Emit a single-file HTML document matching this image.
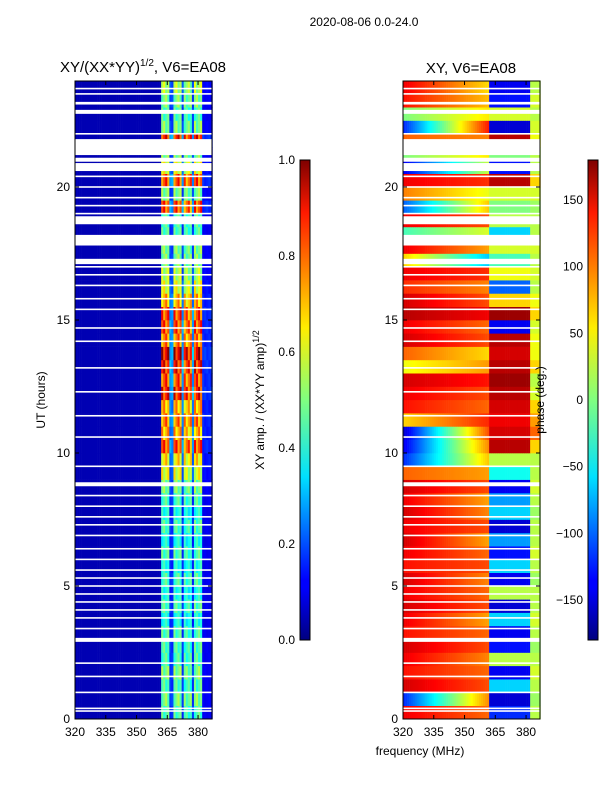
<!DOCTYPE html>
<html><head><meta charset="utf-8">
<style>
body{margin:0;background:#fff;width:600px;height:800px;overflow:hidden;font-family:"Liberation Sans","DejaVu Sans",sans-serif}
svg text{font-family:"Liberation Sans","DejaVu Sans",sans-serif;font-size:12px;fill:#000}
</style></head><body>
<svg id="c" width="600" height="800" xmlns="http://www.w3.org/2000/svg">
<defs>
<linearGradient id="jet" x1="0" y1="1" x2="0" y2="0">
<stop offset="0" stop-color="#00007f"/><stop offset="0.11" stop-color="#0000ff"/><stop offset="0.125" stop-color="#0000ff"/>
<stop offset="0.34" stop-color="#00e0ff"/><stop offset="0.5" stop-color="#80ff80"/><stop offset="0.65" stop-color="#ffee00"/>
<stop offset="0.89" stop-color="#ff1a00"/><stop offset="1" stop-color="#7f0000"/>
</linearGradient>
</defs>
<text x="364" y="26" text-anchor="middle" font-size="13">2020-08-06 0.0-24.0</text>
<text x="143" y="72" text-anchor="middle" style="font-size:15px">XY/(XX*YY)<tspan dy="-6" style="font-size:10px">1/2</tspan><tspan dy="6">, V6=EA08</tspan></text>
<text x="471" y="73" text-anchor="middle" style="font-size:15px">XY, V6=EA08</text>
<g id="left"></g>
<g id="right"></g>
<g id="axes"></g>
<text transform="translate(45,400) rotate(-90)" text-anchor="middle">UT (hours)</text>
<text x="420" y="755" text-anchor="middle">frequency (MHz)</text>
<rect x="300" y="160" width="10" height="480" fill="url(#jet)" stroke="#000"/>
<rect x="588" y="160" width="10" height="480" fill="url(#jet)" stroke="#000"/>
<text transform="translate(264,400) rotate(-90)" text-anchor="middle">XY amp. / (XX*YY amp)<tspan dy="-5" style="font-size:9px">1/2</tspan></text>
<text transform="translate(544,400) rotate(-90)" text-anchor="middle">phase (deg.)</text>
</svg>
<script>
const hourTicks=[0,5,10,15,20];
const freqTicks=[320,335,350,365,380];
const ampTicks=["0.0","0.2","0.4","0.6","0.8","1.0"];
const phaseTicks=[-150,-100,-50,0,50,100,150];
// per half-hour row (0-0.5h ... 23.5-24h): stripe amplitude
const ampRows=[0.45,0.5,0.45,0.5,0.45,0.45, 0.45,0.4,0.45,0.4,0.45,0.4,0.45,0.4,0.45,0.4,0.45,0.5,
0.6,0.65,0.8,0.7,0.75,0.7,0.85,0.8,0.85,0.9,0.75,0.8,0.8,0.7,0.6,0.55,0.5,0.5,0.45,0.45,0.8,0.5,0.8,0.6,0.5,0.85,0.5,0.45,0.5,0.55];
// amplitude stripe bands [startMHz,endMHz,weight]
const stripeBands=[[362,366,1.0],[366,368,0.3],[368,372,1.0],[372,373,0.3],[373,377,0.95],[377,378,0.3],[378,382,1.0],[382,387,0.15]];
// phase per row: A at 320 MHz, B at 360 MHz, H for 362+ MHz, E for 382+ MHz
const phA=[140,-120,150,130,140,150,130,140,150,140,150,130,140,150,140,150,140,150,100,-120,-140,-150,60,130,140,150,40,100,150,140,160,150,120,140,60,140,-20,140,-100,90,140,-140,0,100,-120,0,130,140];
const phB=[100,80,110,100,90,110,100,80,110,100,90,110,100,80,110,90,80,110,80,60,80,100,120,100,110,130,80,60,110,100,140,110,90,120,-60,80,30,110,60,40,120,20,50,90,120,50,70,60];
const phH=[-120,-150,-60,-140,20,-130,-140,-60,-150,20,-140,-60,-130,-80,-150,-60,-80,-140,-40,20,160,150,140,150,160,170,160,150,160,-140,170,60,-100,40,-20,30,-60,20,0,30,160,-130,0,160,-150,30,-130,-140];
const phE=[20,10,20,30,20,10,20,30,20,20,10,20,30,20,20,10,20,30,20,20,60,100,80,60,30,20,60,40,40,30,60,40,20,30,20,30,20,20,10,30,60,20,20,40,30,20,30,20];
// white gaps: bands [startHour,endHour] and thin lines (hours)
const gapBands=[[2.9,3.05],[8.75,8.9],[17.1,17.3],[17.8,18.2],[18.6,18.9],[20.6,20.9],[20.95,21.1],[21.2,21.8],[22.75,22.9],[23.1,23.2]];
const gapLines=[0.3,0.4,1.0,1.6,2.1,3.4,3.8,4.1,4.4,4.7,5.0,5.3,5.6,6.0,6.4,6.9,7.3,7.6,8.0,8.4,9.5,10.6,11.4,12.3,13.2,14.2,14.7,15.4,15.8,16.3,16.7,17.0,19.0,19.3,19.6,20.0,20.4,22.0,23.5,23.7];

const NS="http://www.w3.org/2000/svg";
const T=81,B=719,H0=0,H1=(B-T)/26.6;
const fx=(x0,f)=>x0+(f-320)*137/66.8;
const hy=h=>B-(h-H0)*(B-T)/(H1-H0);
function jet(v){v=Math.max(0,Math.min(1,v));
 const r=Math.max(0,Math.min(1,1.5-Math.abs(4*v-3))),g=Math.max(0,Math.min(1,1.5-Math.abs(4*v-2))),b=Math.max(0,Math.min(1,1.5-Math.abs(4*v-1)));
 return `rgb(${Math.round(r*255)},${Math.round(g*255)},${Math.round(b*255)})`;}
function mk(p,tag,a){const e=document.createElementNS(NS,tag);for(const k in a)e.setAttribute(k,a[k]);p.appendChild(e);return e;}
const L=document.getElementById('left'),R=document.getElementById('right'),AX=document.getElementById('axes');
function weight(f){for(const b of stripeBands)if(f>=b[0]&&f<b[1])return b[2];return 0;}
for(let i=0;i<ampRows.length;i++){
 const y1=hy(i*0.5+0.5),y0=hy(i*0.5);
 for(let f=320;f<386.8;f+=1){
  const w=weight(f);const v=0.05+w*(ampRows[i]-0.05)*(1+((f+i)%3-1)*0.12);
  const r=mk(L,'rect',{x:fx(75,f),y:y1,width:137/66.8+0.3,height:y0-y1+0.3,fill:jet(v)});
  
  
  let p;if(f<362){const t=(f-320)/40;p=phA[i]+(phB[i]-phA[i])*t;}else if(f<382)p=phH[i];else p=phE[i];
  const q=mk(R,'rect',{x:fx(403,f),y:y1,width:137/66.8+0.3,height:y0-y1+0.3,fill:jet((p+180)/360)});
  
  
 }}
for(const x0 of [75,403]){
 for(const g of gapBands){const e=mk(AX,'rect',{x:x0,y:hy(g[1]),width:137,height:hy(g[0])-hy(g[1]),fill:'#fff'});
  }
 for(const h of gapLines){const e=mk(AX,'rect',{x:x0,y:hy(h)-0.8,width:137,height:1.6,fill:'#fff'});
  }
 const fr=mk(AX,'rect',{x:x0,y:T,width:137,height:B-T,fill:'none',stroke:'#000'});
 
 for(const h of hourTicks){mk(AX,'line',{x1:x0,x2:x0+4,y1:hy(h),y2:hy(h),stroke:'#000'});mk(AX,'line',{x1:x0+137,x2:x0+133,y1:hy(h),y2:hy(h),stroke:'#000'});
  const t=mk(AX,'text',{x:x0-5,y:hy(h)+4,'text-anchor':'end'});t.textContent=h;
  }
 for(const f of freqTicks){mk(AX,'line',{x1:fx(x0,f),x2:fx(x0,f),y1:B,y2:B-4,stroke:'#000'});mk(AX,'line',{x1:fx(x0,f),x2:fx(x0,f),y1:T,y2:T+4,stroke:'#000'});
  const t=mk(AX,'text',{x:fx(x0,f),y:B+17,'text-anchor':'middle'});t.textContent=f;
  }
}
ampTicks.forEach((s,i)=>{const y=640-i*96;mk(AX,'line',{x1:300,x2:304,y1:y,y2:y,stroke:'#000'});
 const t=mk(AX,'text',{x:295,y:y+4,'text-anchor':'end','font-size':'11'});t.textContent=s;
 });
phaseTicks.forEach(v=>{const y=400-v*240/180;mk(AX,'line',{x1:588,x2:592,y1:y,y2:y,stroke:'#000'});
 const t=mk(AX,'text',{x:583,y:y+4,'text-anchor':'end','font-size':'11'});t.textContent=v<0?'\u2212'+(-v):v;
 });
</script>
</body></html>
